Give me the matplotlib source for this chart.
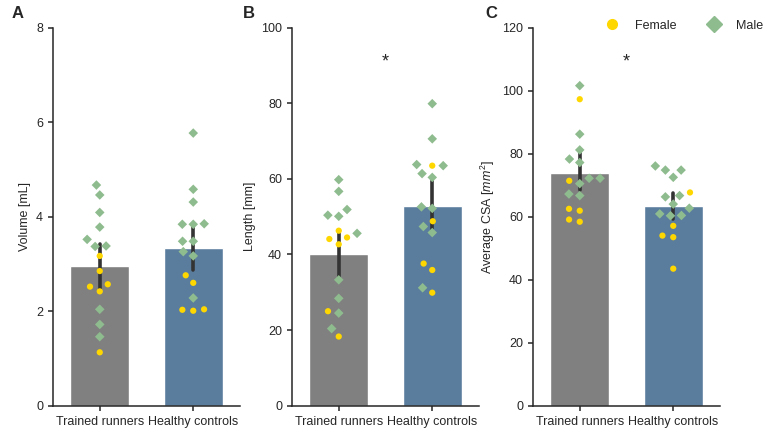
import numpy as np
import pandas as pd
import matplotlib
matplotlib.use("Agg")
import matplotlib.pyplot as plt
import matplotlib.transforms as mtransforms
import seaborn as sns
from matplotlib.lines import Line2D
from matplotlib.markers import MarkerStyle

groups = ["Trained runners", "Healthy controls"]

# panel A: volume [mL]
vol_tr_f = [3.17, 2.85, 2.52, 2.57, 2.42, 1.13]
vol_tr_m = [4.67, 4.46, 4.09, 3.78, 3.52, 3.37, 3.38, 2.04, 1.72, 1.46]
vol_hc_f = [2.76, 2.60, 2.03, 2.01, 2.04]
vol_hc_m = [5.77, 4.58, 4.31, 3.84, 3.84, 3.85, 3.48, 3.48, 3.26, 3.17, 2.28]

# panel B: length [mm]
len_tr_f = [46.3, 44.1, 44.5, 42.7, 25.0, 18.3]
len_tr_m = [59.8, 56.7, 51.9, 50.4, 50.1, 45.6, 33.3, 28.4, 24.5, 20.4]
len_hc_f = [63.5, 48.8, 37.6, 35.9, 29.9]
len_hc_m = [79.9, 70.6, 63.8, 63.5, 61.4, 60.4, 52.6, 52.2, 47.4, 45.8, 31.2]

# panel C: average CSA [mm^2]
csa_tr_f = [97.3, 71.4, 62.5, 61.9, 59.1, 58.4]
csa_tr_m = [101.6, 86.2, 81.2, 78.3, 77.2, 72.2, 72.2, 70.5, 67.2, 66.7]
csa_hc_f = [67.7, 57.1, 54.0, 53.5, 43.5]
csa_hc_m = [76.1, 74.8, 74.8, 72.5, 66.7, 66.3, 64.0, 62.7, 60.9, 60.4, 60.3]

ylabels = ["Volume [mL]", "Length [mm]", "Average CSA [$mm^2$]"]
ylims = [8, 100, 120]
yticks = [np.arange(0, 9, 2), np.arange(0, 101, 20), np.arange(0, 121, 20)]
stars = [False, True, True]
letters = ["A", "B", "C"]

bar_cols = {"Trained runners": "#808080", "Healthy controls": "#4f7ea8"}
sex_cols = {"Female": "#ffd700", "Male": "#8fbc8f"}


def make_df(tr_f, tr_m, hc_f, hc_m):
    rows = []
    for g, f, m in [(groups[0], tr_f, tr_m), (groups[1], hc_f, hc_m)]:
        rows += [(g, "Female", v) for v in f]
        rows += [(g, "Male", v) for v in m]
    return pd.DataFrame(rows, columns=["group", "sex", "val"])


dfs = [
    make_df(vol_tr_f, vol_tr_m, vol_hc_f, vol_hc_m),
    make_df(len_tr_f, len_tr_m, len_hc_f, len_hc_m),
    make_df(csa_tr_f, csa_tr_m, csa_hc_f, csa_hc_m),
]


def mpath(m, k):
    ms = MarkerStyle(m)
    return ms.get_path().transformed(ms.get_transform().scale(k))


# swarm spacing uses size 7.5, markers drawn a bit smaller
circ = mpath("o", 0.6)
diam = mpath("D", 0.65)

sns.set_style("ticks")
plt.rcParams["font.family"] = ["Liberation Sans", "DejaVu Sans"]
plt.rcParams["font.size"] = 9
plt.rcParams["mathtext.fontset"] = "custom"
plt.rcParams["mathtext.it"] = "Liberation Sans:italic"
plt.rcParams["mathtext.rm"] = "Liberation Sans"

W, H = 767, 432
fig = plt.figure(figsize=(W / 100, H / 100), dpi=100)
lefts = [53, 292, 533]
for i in range(3):
    ax = fig.add_axes([lefts[i] / W, 1 - 405.7 / H, 187 / W, 378 / H])
    df = dfs[i]
    sns.barplot(data=df, x="group", y="val", hue="group", palette=bar_cols,
                order=groups, legend=False, width=0.63, errorbar=("ci", 95),
                seed=3, err_kws={"color": "#333333", "linewidth": 2.6}, ax=ax)
    sns.swarmplot(data=df, x="group", y="val", hue="sex", palette=sex_cols,
                  order=groups, size=7.5, legend=False, ax=ax)
    for coll in ax.collections:
        fc = coll.get_facecolors()
        if len(fc) > 1:
            coll.set_paths([circ if c[2] < 0.3 else diam for c in fc])
    ax.set_ylim(0, ylims[i])
    ax.set_yticks(yticks[i])
    ax.set_xlim(-0.5, 1.5)
    ax.set_xlabel("")
    ax.set_ylabel(ylabels[i], fontsize=9)
    ax.tick_params(labelsize=9, length=3.6, width=1.1, colors="#262626")
    for s in ["left", "bottom"]:
        ax.spines[s].set_linewidth(1.1)
        ax.spines[s].set_color("#262626")
    sns.despine(ax=ax)
    if stars[i]:
        tr = mtransforms.blended_transform_factory(ax.transData, ax.transAxes)
        ax.text(0.5, 0.908, "*", transform=tr, ha="center", va="center",
                fontsize=13, color="#262626")
    fig.text([12, 243, 485][i] / W, 1 - 18.5 / H, letters[i],
             fontsize=12, fontweight="bold", va="baseline", ha="left")

handles = [
    Line2D([], [], marker="o", color=sex_cols["Female"], linestyle="", markersize=7),
    Line2D([], [], marker="D", color=sex_cols["Male"], linestyle="", markersize=8),
]
fig.legend(handles, ["Female", "Male"], loc="center left", ncol=2,
           bbox_to_anchor=(597 / W, 1 - 25.7 / H), frameon=False, fontsize=9,
           handlelength=1.2, handletextpad=1.2, columnspacing=2.4,
           borderaxespad=0.2)

fig.savefig("out.png", dpi=100)
